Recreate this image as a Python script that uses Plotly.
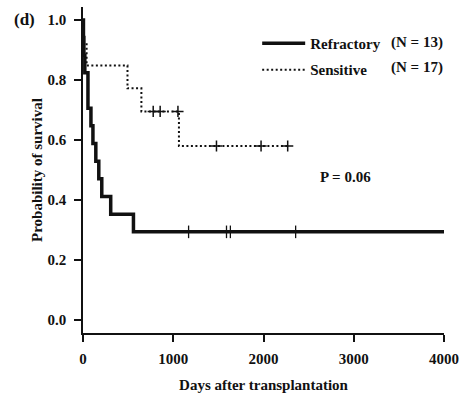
import plotly.graph_objects as go

# Refractory group (solid)
ref_times = [0, 5, 10, 20, 55, 88, 110, 142, 175, 208, 307, 559, 4000]
ref_surv = [1.0, 0.941, 0.882, 0.824, 0.706, 0.647, 0.588, 0.529, 0.471, 0.412, 0.353, 0.294, 0.294]
ref_cens_t = [1170, 1590, 1633, 2356]
ref_cens_s = [0.294, 0.294, 0.294, 0.294]

# Sensitive group (dotted)
sen_times = [0, 10, 40, 493, 647, 1063, 2268]
sen_surv = [1.0, 0.923, 0.848, 0.772, 0.695, 0.58, 0.58]
sen_cens_t = [778, 855, 1052, 1479, 1973, 2268]
sen_cens_s = [0.695, 0.695, 0.695, 0.58, 0.58, 0.58]

x_ticks = [0, 1000, 2000, 3000, 4000]
y_ticks = [0.0, 0.2, 0.4, 0.6, 0.8, 1.0]

FONT = "Liberation Serif"
INK = "#111111"

fig = go.Figure()
fig.add_trace(go.Scatter(x=ref_times, y=ref_surv, mode="lines", line_shape="hv",
                         line=dict(color=INK, width=3.5), name="Refractory",
                         legendgroup="a"))
fig.add_trace(go.Scatter(x=sen_times, y=sen_surv, mode="lines", line_shape="hv",
                         line=dict(color=INK, width=2, dash="2px,2.5px"), name="Sensitive",
                         legendgroup="b"))
fig.add_trace(go.Scatter(x=ref_cens_t, y=ref_cens_s, mode="markers", showlegend=False,
                         marker=dict(symbol="line-ns", size=9, color=INK,
                                     line=dict(color=INK, width=1.3))))
fig.add_trace(go.Scatter(x=sen_cens_t, y=sen_cens_s, mode="markers", showlegend=False,
                         marker=dict(symbol="cross-thin", size=8, color=INK,
                                     line=dict(color=INK, width=1.5))))

bold = dict(family=FONT, size=15, color=INK, weight="bold")

fig.update_layout(
    width=466, height=398,
    margin=dict(l=83, r=18, t=7, b=62),
    paper_bgcolor="white", plot_bgcolor="white",
    font=bold,
    showlegend=True,
    legend=dict(x=0.4825, y=0.939, xanchor="left", yanchor="top",
                bgcolor="rgba(0,0,0,0)", font=bold, tracegroupgap=4,
                itemwidth=43),
    xaxis=dict(range=[0, 4000], tickvals=x_ticks, showgrid=False, zeroline=False,
               showline=True, linecolor=INK, linewidth=1.5,
               ticks="outside", ticklen=7, tickwidth=1.5, tickcolor=INK,
               tickfont=bold, ticklabelstandoff=4,
               title=dict(text="Days after transplantation", font=bold, standoff=14)),
    yaxis=dict(range=[-0.0429, 1.0429], tickvals=y_ticks, tickformat=".1f",
               showgrid=False, zeroline=False,
               showline=True, linecolor=INK, linewidth=1.5,
               ticks="outside", ticklen=7, tickwidth=1.5, tickcolor=INK,
               tickfont=bold, ticklabelstandoff=5,
               title=dict(text="Probability of survival", font=bold, standoff=1)),
)

fig.add_annotation(text="(N = 13)", xref="paper", yref="paper", x=0.849, y=0.8906,
                   xanchor="left", yanchor="middle", showarrow=False, font=bold)
fig.add_annotation(text="(N = 17)", xref="paper", yref="paper", x=0.849, y=0.8146,
                   xanchor="left", yanchor="middle", showarrow=False, font=bold)
fig.add_annotation(text="P = 0.06", xref="paper", yref="paper", x=0.726, y=0.480,
                   xanchor="center", yanchor="middle", showarrow=False, font=bold)
fig.add_annotation(text="(d)", xref="paper", yref="paper", x=-0.1616, y=0.9605,
                   xanchor="center", yanchor="middle", showarrow=False,
                   font=dict(family=FONT, size=17, color=INK, weight="bold"))

fig.write_html("out.html")
